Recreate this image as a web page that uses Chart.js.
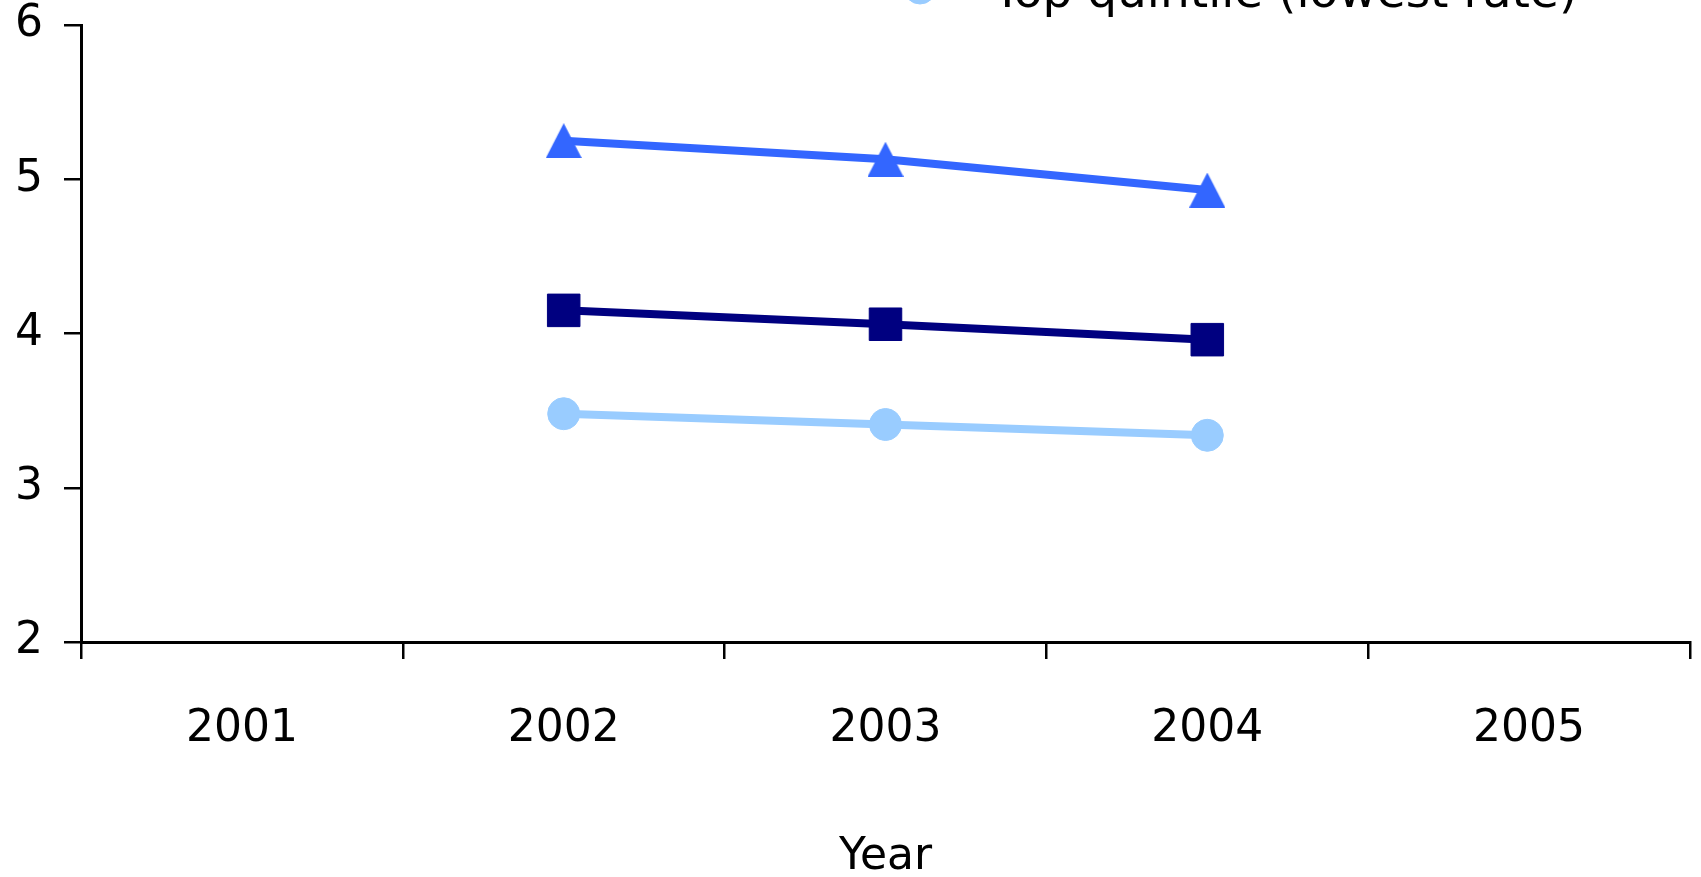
<!DOCTYPE html>
<html>
<head>
<meta charset="utf-8">
<title>Rate by quintile, 2001–2005</title>
<script src="https://cdn.jsdelivr.net/npm/chart.js@4/dist/chart.umd.min.js"></script>
<style>
  html, body { margin: 0; padding: 0; background: #ffffff; overflow: hidden; }
  #wrap { width: 1701px; height: 877px; }
</style>
</head>
<body>
<div id="wrap"><canvas id="chart" width="1701" height="877"></canvas></div>
<script>
// Categories and series
const years = ['2001', '2002', '2003', '2004', '2005'];
const bottomQuintile = [null, 5.25, 5.13, 4.93, null];
const allAreas       = [null, 4.15, 4.06, 3.96, null];
const topQuintile    = [null, 3.48, 3.41, 3.34, null];
const seriesNames = ['Bottom quintile (highest rate)', 'All areas', 'Top quintile (lowest rate)'];
const yTicks = [2, 3, 4, 5, 6];
const xTitle = 'Year';

const FONT = '"DejaVu Sans", Verdana, sans-serif';

// Filled triangle marker, centred on its bounding box
function triangleMarker(color, w, h) {
  const c = document.createElement('canvas');
  c.width = w; c.height = h;
  const g = c.getContext('2d');
  g.fillStyle = color;
  g.beginPath();
  g.moveTo(w / 2, 0);
  g.lineTo(w, h);
  g.lineTo(0, h);
  g.closePath();
  g.fill();
  return c;
}

// Vertical legend stacked above the plot; rows run upward from the last entry
const stackedLegend = {
  id: 'stackedLegend',
  afterDraw(chart) {
    const ctx = chart.ctx;
    const ds = chart.data.datasets;
    const markerX = 920, textX = 993, lastRowY = -12, rowH = 52;
    ctx.save();
    ds.forEach((d, i) => {
      const y = lastRowY - (ds.length - 1 - i) * rowH;
      ctx.strokeStyle = d.borderColor;
      ctx.lineWidth = d.borderWidth;
      ctx.beginPath();
      ctx.moveTo(markerX - 40, y);
      ctx.lineTo(markerX + 40, y);
      ctx.stroke();
      ctx.fillStyle = d.pointBackgroundColor;
      ctx.strokeStyle = d.pointBorderColor;
      ctx.lineWidth = d.pointBorderWidth || 0;
      Chart.helpers.drawPoint(ctx, {
        pointStyle: d.pointStyle, radius: d.pointRadius, rotation: 0,
        borderWidth: d.pointBorderWidth
      }, markerX, y);
      ctx.fillStyle = '#000000';
      ctx.font = '47px ' + FONT;
      ctx.textAlign = 'left';
      ctx.textBaseline = 'alphabetic';
      ctx.fillText(d.label, textX, y + 19);
    });
    ctx.restore();
  }
};

const datasets = [
  {
    label: seriesNames[0],
    data: bottomQuintile,
    borderColor: '#3366FF',
    backgroundColor: '#3366FF',
    borderWidth: 8,
    pointStyle: triangleMarker('#3366FF', 36, 35),
    pointRadius: 18,
    pointBorderWidth: 0,
    pointBackgroundColor: '#3366FF',
    pointBorderColor: '#3366FF'
  },
  {
    label: seriesNames[1],
    data: allAreas,
    borderColor: '#000080',
    backgroundColor: '#000080',
    borderWidth: 8,
    pointStyle: 'rect',
    pointRadius: 23,
    pointBorderWidth: 1,
    pointBackgroundColor: '#000080',
    pointBorderColor: '#000080'
  },
  {
    label: seriesNames[2],
    data: topQuintile,
    borderColor: '#99CCFF',
    backgroundColor: '#99CCFF',
    borderWidth: 8,
    pointStyle: 'circle',
    pointRadius: 16,
    pointBorderWidth: 1,
    pointBackgroundColor: '#99CCFF',
    pointBorderColor: '#99CCFF'
  }
];

new Chart(document.getElementById('chart'), {
  type: 'line',
  data: { labels: years, datasets },
  plugins: [stackedLegend],
  options: {
    responsive: false,
    devicePixelRatio: 1,
    animation: false,
    events: [],
    layout: { autoPadding: false, padding: { left: 15, right: 11, top: 25, bottom: 0 } },
    elements: { line: { tension: 0 } },
    plugins: {
      legend: { display: false },
      tooltip: { enabled: false }
    },
    scales: {
      x: {
        type: 'category',
        offset: true,
        afterFit(scale) {
          scale.height = 235;
          scale.paddingLeft = 0;
          scale.paddingRight = 0;
        },
        grid: {
          offset: true,
          drawOnChartArea: false,
          drawTicks: true,
          tickLength: 17,
          color: '#000000',
          lineWidth: 2.5
        },
        border: { display: true, color: '#000000', width: 3 },
        ticks: {
          color: '#000000',
          font: { family: FONT, size: 44, lineHeight: 1 },
          padding: 49,
          maxRotation: 0,
          autoSkip: false
        },
        title: {
          display: true,
          text: xTitle,
          color: '#000000',
          font: { family: FONT, size: 44, lineHeight: 0.9 },
          padding: { top: 20, bottom: 0 }
        }
      },
      y: {
        min: yTicks[0],
        max: yTicks[yTicks.length - 1],
        afterBuildTicks(scale) {
          scale.ticks = yTicks.map(v => ({ value: v }));
        },
        afterFit(scale) {
          scale.width = 66;
          scale.paddingTop = 0;
          scale.paddingBottom = 0;
        },
        grid: {
          drawOnChartArea: false,
          drawTicks: true,
          tickLength: 17,
          color: '#000000',
          lineWidth: 2.5
        },
        border: { display: true, color: '#000000', width: 3 },
        ticks: {
          color: '#000000',
          font: { family: FONT, size: 44, lineHeight: 1 },
          padding: 21
        }
      }
    }
  }
});
</script>
</body>
</html>
